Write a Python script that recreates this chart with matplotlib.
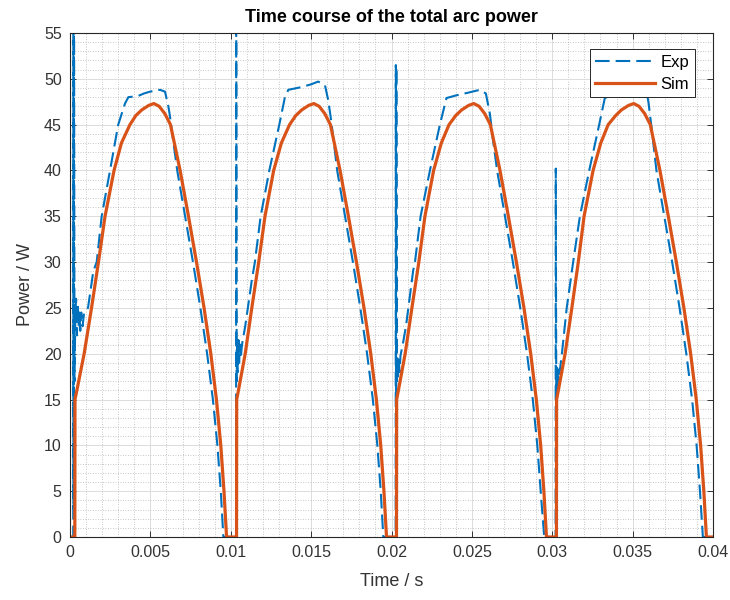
import matplotlib
matplotlib.use("Agg")
import matplotlib.pyplot as plt
from matplotlib.ticker import MultipleLocator

plt.rcParams['font.family'] = ['Liberation Sans', 'DejaVu Sans']

# measured experimental arc power (blue dashed)
exp_t = [0, 0.0002, 0.00021, 0.00023, 0.00025, 0.00028, 0.00033, 0.00038, 0.00043, 0.00048,
         0.00053, 0.00058, 0.00064, 0.0007, 0.00078, 0.00088, 0.00112, 0.00145, 0.00166, 0.00197,
         0.00249, 0.003, 0.00342, 0.00363, 0.0042, 0.0046, 0.00498, 0.0056, 0.00591, 0.00612,
         0.00622, 0.0064, 0.00667, 0.00716, 0.00765, 0.00811, 0.00853, 0.00889, 0.00917, 0.00938,
         0.00954,
         0.01033, 0.01034, 0.01037, 0.0104, 0.01044, 0.01048, 0.01052, 0.01057, 0.01062, 0.0107,
         0.0109, 0.0113, 0.0115, 0.01186, 0.0124, 0.01302, 0.01337, 0.01358, 0.01441, 0.015,
         0.01544, 0.01586, 0.01606, 0.01621, 0.0164, 0.01662, 0.01711, 0.0176, 0.01806, 0.01848,
         0.01884, 0.01912, 0.01933, 0.01949,
         0.02026, 0.02027, 0.02029, 0.0203, 0.02033, 0.02037, 0.0204, 0.02045, 0.0205, 0.02056,
         0.0207, 0.0209, 0.02135, 0.02146, 0.02181, 0.02239, 0.02301, 0.02342, 0.02404, 0.0248,
         0.0255, 0.02587, 0.02612, 0.0263, 0.02657, 0.02706, 0.02755, 0.02801, 0.02843, 0.02879,
         0.02907, 0.02928, 0.0295,
         0.03021, 0.03022, 0.03025, 0.03028, 0.03032, 0.03036, 0.0304, 0.03046, 0.0306, 0.0309,
         0.0313, 0.03172, 0.0323, 0.03292, 0.03327, 0.0339, 0.0347, 0.0355, 0.03585, 0.03598,
         0.03617, 0.03648, 0.03697, 0.03746, 0.03792, 0.03834, 0.0387, 0.03898, 0.03919, 0.03937,
         0.04]
exp_p = [0, 0, 60, 3, 60, 17, 24, 26, 22, 25.5,
         23, 24.5, 22.5, 24.5, 23, 24.5, 25, 29, 30, 35,
         40, 45, 47.3, 48.0, 48.1, 48.4, 48.6, 48.8, 48.6, 47,
         45.9, 43.5, 40, 35, 30, 25, 20, 15, 10, 5,
         0,
         0, 60, 17, 21, 18, 21.5, 19, 21, 19.5, 21,
         23, 27.9, 30, 35, 40, 45, 48, 48.8, 49.1, 49.4,
         49.7, 49.3, 47.7, 45.9, 43.3, 40, 35, 30, 25, 20,
         15, 10, 5, 0,
         0, 51.5, 5, 51.3, 17, 19.5, 17.5, 19.5, 18, 19.8,
         21, 23, 29.1, 30, 35, 40, 45, 47.9, 48.2, 48.5,
         48.8, 48.4, 46.2, 43.5, 40, 35, 30, 25, 20, 15,
         10, 5, 0,
         0, 40.2, 15.5, 18.5, 16, 18.3, 16.5, 18, 20, 25,
         30, 35, 40, 45, 47.9, 48.3, 48.6, 49, 48.7, 47.5,
         44.8, 40, 35, 30, 25, 20, 15, 10, 5, 0,
         0]

# simulated arc power (orange)
sim_t = [0, 0.0003, 0.00031, 0.00045, 0.00088, 0.00134, 0.00177, 0.00218, 0.00274, 0.0032,
         0.00373, 0.0041, 0.00446, 0.0049, 0.00522, 0.00555, 0.0059, 0.00625, 0.00685, 0.00737,
         0.00787, 0.00834, 0.00876, 0.00911, 0.00938, 0.00958, 0.00974,
         0.01036, 0.01037, 0.0105, 0.0109, 0.01131, 0.01174, 0.01213, 0.01267, 0.01315, 0.01366,
         0.01405, 0.01441, 0.01485, 0.01517, 0.0155, 0.01585, 0.0162, 0.0168, 0.01732, 0.01782,
         0.01829, 0.01871, 0.01906, 0.01933, 0.01953, 0.01969,
         0.02031, 0.02032, 0.02045, 0.02085, 0.02127, 0.0217, 0.02208, 0.02262, 0.0231, 0.02358,
         0.024, 0.02436, 0.0248, 0.02512, 0.02545, 0.0258, 0.02615, 0.02675, 0.02727, 0.02777,
         0.02824, 0.02866, 0.02901, 0.02928, 0.02948, 0.02964,
         0.03026, 0.03027, 0.0304, 0.0308, 0.03122, 0.03162, 0.03198, 0.03254, 0.03302, 0.03348,
         0.03395, 0.0343, 0.03475, 0.03507, 0.0354, 0.03575, 0.0361, 0.0367, 0.03722, 0.03772,
         0.03819, 0.03861, 0.03896, 0.03923, 0.03943, 0.03959, 0.04]
sim_p = [0, 0, 15, 16.2, 20, 25, 30, 35, 40, 43,
         45, 46, 46.6, 47.1, 47.3, 47.0, 46.2, 45, 40, 35,
         30, 25, 20, 15, 10, 5, 0,
         0, 15, 16.2, 20, 25, 30, 35, 40, 43, 45,
         46, 46.6, 47.1, 47.3, 47.0, 46.2, 45, 40, 35, 30,
         25, 20, 15, 10, 5, 0,
         0, 15, 16.2, 20, 25, 30, 35, 40, 43, 45,
         46, 46.6, 47.1, 47.3, 47.0, 46.2, 45, 40, 35, 30,
         25, 20, 15, 10, 5, 0,
         0, 15, 16.2, 20, 25, 30, 35, 40, 43, 45,
         46, 46.6, 47.1, 47.3, 47.0, 46.2, 45, 40, 35, 30,
         25, 20, 15, 10, 5, 0, 0]

x_ticks = [0, 0.005, 0.01, 0.015, 0.02, 0.025, 0.03, 0.035, 0.04]
x_labels = ['0', '0.005', '0.01', '0.015', '0.02', '0.025', '0.03', '0.035', '0.04']
y_ticks = list(range(0, 56, 5))

fig = plt.figure(figsize=(7.3, 6), dpi=100)
ax = fig.add_axes([70/730, 63/600, 643/730, 504/600])

ax.plot(exp_t, exp_p, color='#0072BD', lw=1.5, linestyle=(0, (7, 2.9)), label='Exp')
ax.plot(sim_t, sim_p, color='#D95319', lw=2.3, label='Sim')

ax.set_xlim(0, 0.04)
ax.set_ylim(0, 55)
ax.set_xticks(x_ticks)
ax.set_xticklabels(x_labels)
ax.set_yticks(y_ticks)
ax.xaxis.set_minor_locator(MultipleLocator(0.001))
ax.yaxis.set_minor_locator(MultipleLocator(1))

ax.grid(which='major', color='#dcdcdc', lw=0.7, linestyle='-')
ax.grid(which='minor', color='#b5b5b5', lw=0.6, linestyle=(0, (1, 2)))
ax.set_axisbelow(True)

ax.tick_params(which='major', direction='in', length=4, width=0.7, top=True, right=True,
               labelsize=11.5, colors='#333333', pad=6)
ax.tick_params(which='minor', length=0)
for s in ax.spines.values():
    s.set_color('#262626')
    s.set_linewidth(0.8)

ax.set_xlabel('Time / s', fontsize=13, color='#333333', labelpad=9)
ax.set_ylabel('Power / W', fontsize=13, color='#333333', labelpad=7)
ax.set_title('Time course of the total arc power', fontsize=13, fontweight='bold', pad=8)

leg = ax.legend(loc='upper right', bbox_to_anchor=(0.972, 0.968), fontsize=12,
                handlelength=3.6, fancybox=False, framealpha=1, edgecolor='#262626',
                borderpad=0.35, labelspacing=0.4, handletextpad=0.3, borderaxespad=0)
leg.get_frame().set_linewidth(0.7)

fig.savefig('out.png', dpi=100)
